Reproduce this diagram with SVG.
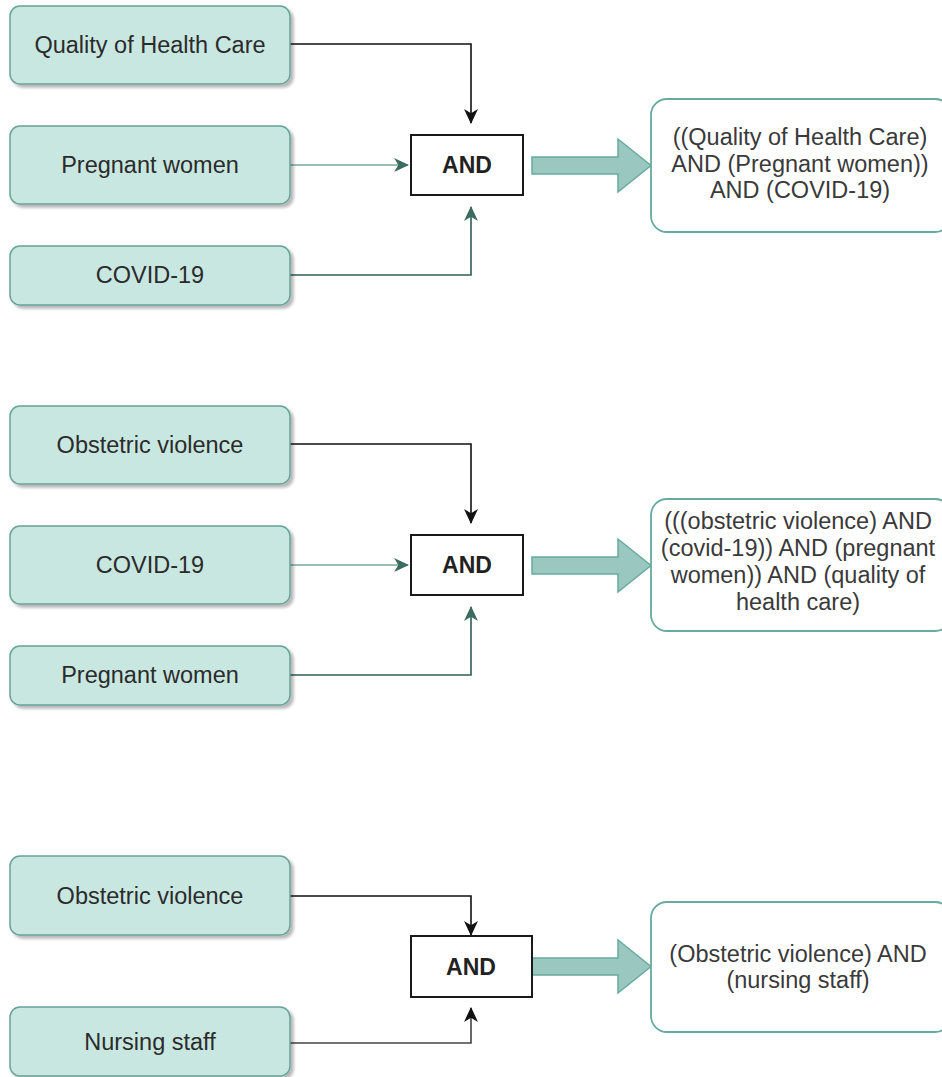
<svg xmlns="http://www.w3.org/2000/svg" width="942" height="1077" viewBox="0 0 942 1077">
<style>
.in rect{fill:#C9E7E1;stroke:#67A398;stroke-width:1.5;filter:url(#sh)}
.lbl{font-family:"Liberation Sans",Arial,sans-serif;font-size:23.5px;fill:#2b2b2b;text-anchor:middle}
.and rect{fill:#fff;stroke:#1a1a1a;stroke-width:2}
.and text{font-family:"Liberation Sans",Arial,sans-serif;font-size:23px;font-weight:bold;fill:#222;text-anchor:middle}
.res rect{fill:#fff;stroke:#67AB9F;stroke-width:1.8}
.res text{font-family:"Liberation Sans",Arial,sans-serif;font-size:23.5px;fill:#3a3a3a;text-anchor:middle}
.big{fill:#9AC7BF;stroke:#67AB9F;stroke-width:1.5}
.c{fill:none;stroke-width:1.6}
.k{stroke:#111;marker-end:url(#mk)}
.m{stroke:#78A79E;marker-end:url(#mt)}
.d{stroke:#2F5E55;marker-end:url(#mt)}
.g{stroke:#444;marker-end:url(#mk)}
</style>
<defs>
<filter id="sh" x="-10%" y="-10%" width="130%" height="140%">
<feDropShadow dx="3" dy="3" stdDeviation="1.5" flood-color="#000" flood-opacity="0.28"/>
</filter>
<marker id="mk" viewBox="0 0 14 13" refX="13" refY="6.5" markerWidth="15" markerHeight="14" markerUnits="userSpaceOnUse" orient="auto">
<path d="M0,0 L14,6.5 L0,13 L4,6.5 Z" fill="#111"/>
</marker>
<marker id="mt" viewBox="0 0 14 13" refX="13" refY="6.5" markerWidth="15" markerHeight="14" markerUnits="userSpaceOnUse" orient="auto">
<path d="M0,0 L14,6.5 L0,13 L4,6.5 Z" fill="#3C6B61"/>
</marker>
</defs>

<g id="connectors">
<path class="c k" d="M290,44 H471 V123"/>
<path class="c m" d="M290,165 H408"/>
<path class="c d" d="M290,275 H471 V207"/>
<path class="c k" d="M290,444 H471 V523"/>
<path class="c m" d="M290,565 H408"/>
<path class="c d" d="M290,675 H471 V607"/>
<path class="c k" d="M290,896 H471 V935"/>
<path class="c g" d="M290,1043 H471 V1008"/>
<polygon class="big" points="532,157 618,157 618,139 651,165.5 618,192 618,174 532,174"/>
<polygon class="big" points="532,557 618,557 618,539 651,565.5 618,592 618,574 532,574"/>
<polygon class="big" points="532,958 618,958 618,940 651,966.5 618,993 618,975 532,975"/>
</g>

<g id="n1" class="in"><rect x="10" y="6" width="280" height="78" rx="10"/><text class="lbl" x="150" y="53">Quality of Health Care</text></g>
<g id="n2" class="in"><rect x="10" y="126" width="280" height="78" rx="10"/><text class="lbl" x="150" y="173">Pregnant women</text></g>
<g id="n3" class="in"><rect x="10" y="246" width="280" height="59" rx="10"/><text class="lbl" x="150" y="283">COVID-19</text></g>
<g id="and1" class="and"><rect x="411" y="135" width="112" height="60"/><text x="467" y="173">AND</text></g>
<g id="r1" class="res"><rect x="651" y="99" width="300" height="133" rx="16"/>
<text x="800" y="145">((Quality of Health Care)</text>
<text x="800" y="171.5">AND (Pregnant women))</text>
<text x="800" y="198">AND (COVID-19)</text></g>

<g id="n4" class="in"><rect x="10" y="406" width="280" height="78" rx="10"/><text class="lbl" x="150" y="453">Obstetric violence</text></g>
<g id="n5" class="in"><rect x="10" y="526" width="280" height="78" rx="10"/><text class="lbl" x="150" y="573">COVID-19</text></g>
<g id="n6" class="in"><rect x="10" y="646" width="280" height="59" rx="10"/><text class="lbl" x="150" y="683">Pregnant women</text></g>
<g id="and2" class="and"><rect x="411" y="535" width="112" height="60"/><text x="467" y="573">AND</text></g>
<g id="r2" class="res"><rect x="651" y="499" width="300" height="132" rx="16"/>
<text x="798" y="529">(((obstetric violence) AND</text>
<text x="798" y="556">(covid-19)) AND (pregnant</text>
<text x="798" y="583">women)) AND (quality of</text>
<text x="798" y="610">health care)</text></g>

<g id="n7" class="in"><rect x="10" y="856" width="280" height="79" rx="10"/><text class="lbl" x="150" y="904">Obstetric violence</text></g>
<g id="n8" class="in"><rect x="10" y="1007" width="280" height="69" rx="10"/><text class="lbl" x="150" y="1050">Nursing staff</text></g>
<g id="and3" class="and"><rect x="411" y="936" width="121" height="61"/><text x="471" y="975">AND</text></g>
<g id="r3" class="res"><rect x="651" y="902" width="300" height="130" rx="16"/>
<text x="798" y="962">(Obstetric violence) AND</text>
<text x="798" y="988">(nursing staff)</text></g>
</svg>
